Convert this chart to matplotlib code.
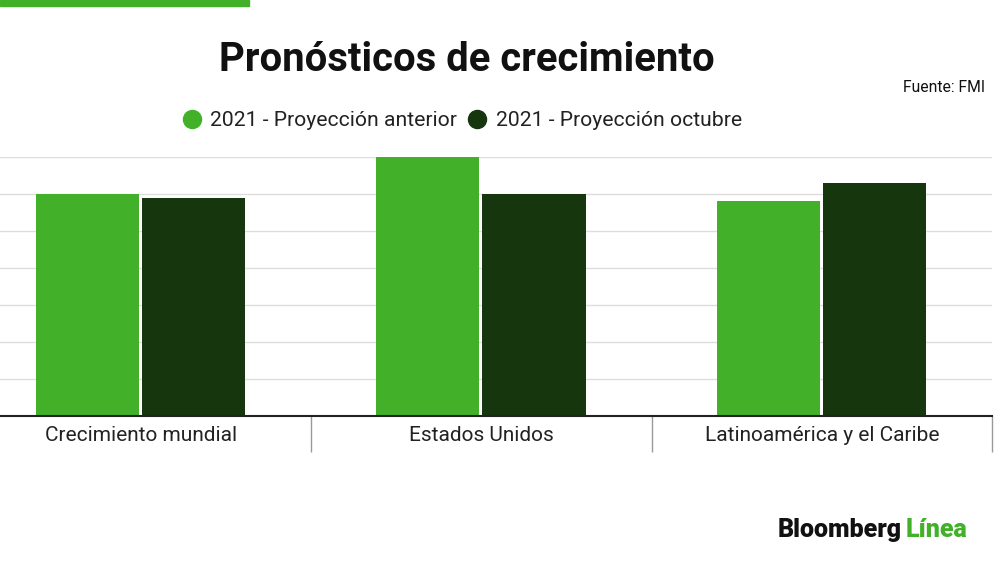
import matplotlib.pyplot as plt
import numpy as np

plt.rcParams['font.family'] = ['Roboto', 'DejaVu Sans']

# data
categories = ['Crecimiento mundial', 'Estados Unidos', 'Latinoamérica y el Caribe']
proy_anterior = [6.0, 7.0, 5.8]
proy_octubre = [5.9, 6.0, 6.3]
series_names = ['2021 - Proyección anterior', '2021 - Proyección octubre']

light = '#43B02A'
dark = '#16360E'

fig = plt.figure(figsize=(10, 5.62), dpi=100)
ax = fig.add_axes([0.0, (562 - 416) / 562, 0.992, (416 - 157) / 562])

x = np.arange(len(categories))
w = 0.303
ax.bar(x - 0.158, proy_anterior, w, color=light, zorder=3)
ax.bar(x + 0.154, proy_octubre, w, color=dark, zorder=3)

ax.set_xlim(-0.415, 2.5)
ax.set_ylim(0, 7)
ax.set_yticks(np.arange(1, 8))
ax.yaxis.grid(True, color='#DDDDDD', linewidth=1, zorder=0)
ax.tick_params(axis='y', length=0, labelleft=False)

ax.set_xticks(x)
ax.set_xticklabels(categories, fontsize=15, color='#222222')
ax.tick_params(axis='x', which='major', length=0, pad=7)
ax.set_xticks([0.5, 1.5, 2.5], minor=True)
ax.tick_params(axis='x', which='minor', length=26, width=1, color='#999999')

for s in ['top', 'right', 'left']:
    ax.spines[s].set_visible(False)
ax.spines['bottom'].set_color('#222222')
ax.spines['bottom'].set_linewidth(1.5)
ax.spines['bottom'].set_zorder(4)

# top green strip
fig.patches.append(plt.Rectangle((0, 1 - 6 / 562), 0.249, 6 / 562,
                                 transform=fig.transFigure, color=light))

fig.text(0.4665, 1 - 60 / 562, 'Pronósticos de crecimiento', ha='center', va='center',
         fontsize=28.8, fontweight='bold', color='#111111')
fig.text(0.985, 1 - 88 / 562, 'Fuente: FMI', ha='right', va='center', fontsize=11.3, color='#111111')

# legend
leg_y = 1 - 119 / 562
for cx, tx, col, name in [(0.192, 0.210, light, series_names[0]),
                          (0.477, 0.496, dark, series_names[1])]:
    fig.lines.append(plt.Line2D([cx], [leg_y], marker='o', markersize=13, color=col,
                                transform=fig.transFigure))
    fig.text(tx, leg_y - 2 / 562, name, ha='left', va='center', fontsize=15.2, color='#222222')

# logo
t1 = fig.text(0.778, 1 - 530 / 562, 'Bloomberg', ha='left', va='center', fontsize=18,
              fontweight='heavy', color='#111111')
fig.canvas.draw()
bb = t1.get_window_extent()
fig.text(bb.x1 / fig.bbox.width + 0.004, 1 - 530 / 562, 'Línea', ha='left', va='center',
         fontsize=18, fontweight='heavy', color=light)

fig.savefig('out.png', dpi=100)
